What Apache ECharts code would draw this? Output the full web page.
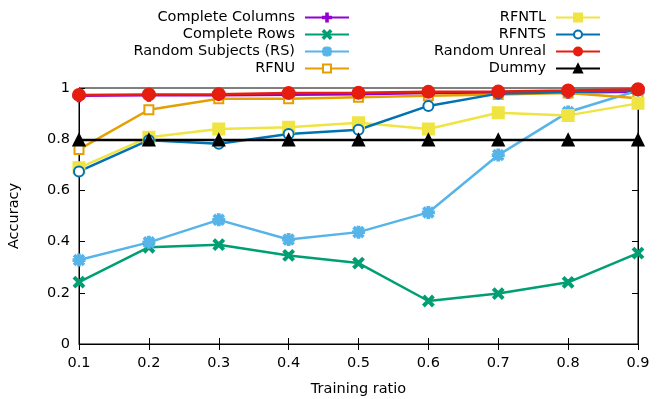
<!DOCTYPE html>
<html>
<head>
<meta charset="utf-8">
<script src="https://cdn.jsdelivr.net/npm/echarts@6/dist/echarts.min.js"></script>
<style>
  html, body { margin: 0; padding: 0; background: #fff; }
  #chart { width: 664px; height: 399px; }
</style>
</head>
<body>
<div id="chart"></div>
<script>
// x categories (training ratio)
var ratios = ['0.1', '0.2', '0.3', '0.4', '0.5', '0.6', '0.7', '0.8', '0.9'];

// accuracy per method
var completeColumns = [0.970, 0.972, 0.972, 0.974, 0.976, 0.980, 0.980, 0.982, 0.985];
var completeRows    = [0.242, 0.378, 0.388, 0.346, 0.316, 0.168, 0.197, 0.241, 0.355];
var randomSubjects  = [0.328, 0.397, 0.485, 0.408, 0.437, 0.514, 0.738, 0.906, 0.990];
var rfnu            = [0.760, 0.915, 0.958, 0.958, 0.964, 0.970, 0.975, 0.980, 0.960];
var rfntl           = [0.688, 0.808, 0.840, 0.847, 0.864, 0.840, 0.903, 0.893, 0.940];
var rfnts           = [0.674, 0.796, 0.782, 0.820, 0.837, 0.930, 0.978, 0.984, 0.990];
var randomUnreal    = [0.973, 0.975, 0.976, 0.980, 0.981, 0.985, 0.986, 0.990, 0.995];
var dummy           = [0.797, 0.797, 0.797, 0.797, 0.797, 0.797, 0.797, 0.797, 0.797];

var FONT = 'DejaVu Sans';
var FS = 14.5;

// gnuplot-like point shapes
var plusPath = 'path://M4,0L6,0L6,4L10,4L10,6L6,6L6,10L4,10L4,6L0,6L0,4L4,4Z';
var crossPath = 'path://M0,1.4L1.4,0L5,3.6L8.6,0L10,1.4L6.4,5L10,8.6L8.6,10L5,6.4L1.4,10L0,8.6L3.6,5Z';
var starPath = 'path://M4.2,0L5.8,0L5.8,4.2L10,4.2L10,5.8L5.8,5.8L5.8,10L4.2,10L4.2,5.8L0,5.8L0,4.2L4.2,4.2Z' +
  'M0.6,1.7L1.7,0.6L5,3.9L8.3,0.6L9.4,1.7L6.1,5L9.4,8.3L8.3,9.4L5,6.1L1.7,9.4L0.6,8.3L3.9,5Z';

function mkSeries(name, data, color, symbol, size) {
  return {
    name: name,
    type: 'line',
    data: data,
    symbol: symbol,
    symbolSize: size,
    showAllSymbol: true,
    lineStyle: { color: color, width: 2.5 },
    itemStyle: { color: color, borderColor: color, borderWidth: 2 },
    emphasis: { disabled: true },
    animation: false
  };
}

var chart = echarts.init(document.getElementById('chart'));

var legendText = { fontFamily: FONT, fontSize: FS, color: '#000', padding: [0, 5, 0, 0] };

function mkLegend(names, right) {
  return {
    data: names,
    orient: 'vertical',
    align: 'right',
    right: right,
    top: 5,
    itemWidth: 44,
    itemHeight: 10,
    itemGap: 2,
    textStyle: legendText,
    selectedMode: false
  };
}

var axisText = { fontFamily: FONT, fontSize: FS, color: '#000' };

chart.setOption({
  animation: false,
  legend: [
    mkLegend(['Complete Columns', 'Complete Rows', 'Random Subjects (RS)', 'RFNU'], 309),
    mkLegend(['RFNTL', 'RFNTS', 'Random Unreal', 'Dummy'], 58)
  ],
  grid: {
    left: 79, right: 26, top: 88, bottom: 55,
    outerBoundsMode: 'none',
    containLabel: false,
    show: true, borderColor: '#000', borderWidth: 1, backgroundColor: 'transparent'
  },
  xAxis: [{
    type: 'category',
    data: ratios,
    boundaryGap: false,
    name: 'Training ratio',
    nameLocation: 'middle',
    nameGap: 38,
    nameTextStyle: axisText,
    axisLine: { show: true, lineStyle: { color: '#000', width: 1 } },
    axisTick: { show: true, inside: true, length: 6, lineStyle: { color: '#000' } },
    axisLabel: Object.assign({ margin: 12 }, axisText),
    splitLine: { show: false }
  }, {
    type: 'category',
    data: ratios,
    boundaryGap: false,
    position: 'top',
    axisLine: { show: false },
    axisTick: { show: true, inside: true, length: 6, lineStyle: { color: '#000' } },
    axisLabel: { show: false },
    splitLine: { show: false }
  }],
  yAxis: [{
    type: 'value',
    min: 0, max: 1, interval: 0.2,
    name: 'Accuracy',
    nameLocation: 'middle',
    nameGap: 57,
    nameTextStyle: axisText,
    axisLine: { show: true, lineStyle: { color: '#000', width: 1 } },
    axisTick: { show: true, inside: true, length: 6, lineStyle: { color: '#000' } },
    axisLabel: Object.assign({ margin: 9 }, axisText),
    splitLine: { show: false }
  }, {
    type: 'value',
    min: 0, max: 1, interval: 0.2,
    position: 'right',
    axisLine: { show: true, lineStyle: { color: '#000', width: 1 } },
    axisTick: { show: true, inside: true, length: 6, lineStyle: { color: '#000' } },
    axisLabel: { show: false },
    splitLine: { show: false }
  }],
  series: [
    mkSeries('Complete Columns', completeColumns, '#9400d3', plusPath, 11),
    mkSeries('Complete Rows', completeRows, '#009e73', crossPath, 10),
    mkSeries('Random Subjects (RS)', randomSubjects, '#56b4e9', starPath, 11),
    mkSeries('RFNU', rfnu, '#e69f00', 'emptyRect', 9),
    mkSeries('RFNTL', rfntl, '#f0e442', 'rect', 11),
    mkSeries('RFNTS', rfnts, '#0072b2', 'emptyCircle', 10),
    mkSeries('Random Unreal', randomUnreal, '#e51e10', 'circle', 12),
    mkSeries('Dummy', dummy, '#000000', 'triangle', 11)
  ]
});
</script>
</body>
</html>
